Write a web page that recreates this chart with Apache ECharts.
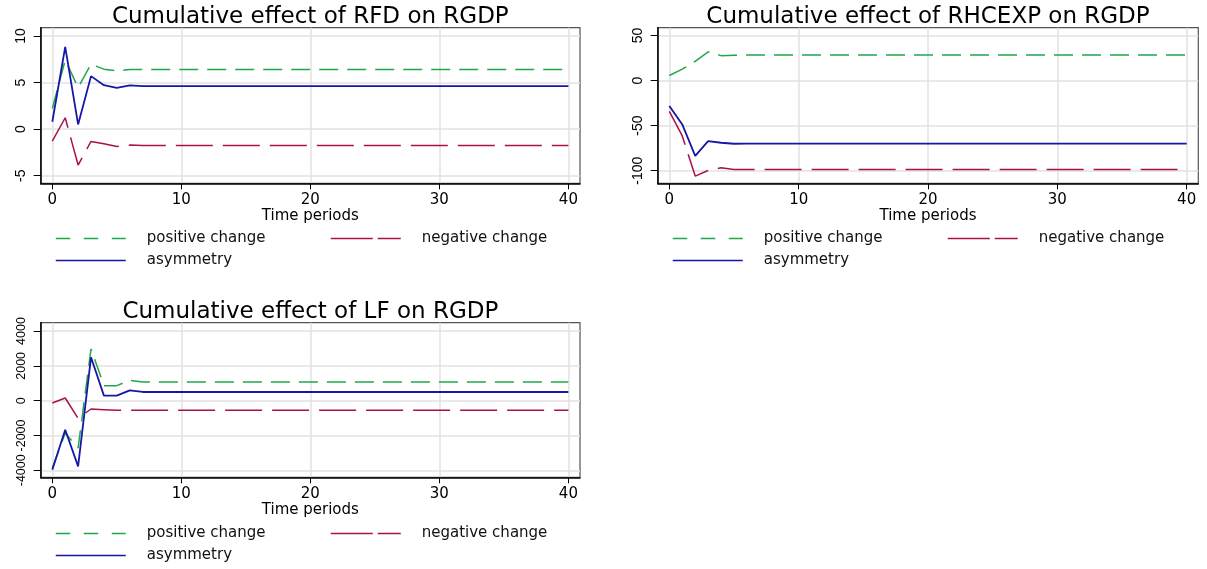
<!DOCTYPE html>
<html><head><meta charset="utf-8">
<script src="https://cdn.jsdelivr.net/npm/echarts@6/dist/echarts.min.js"></script>
<style>html,body{margin:0;padding:0;background:#fff}#c{width:1207px;height:569px}</style>
</head><body><div id="c"></div>
<script>
const periods = [0,1,2,3,4,5,6,7,8,9,
  10,11,12,13,14,15,16,17,18,19,
  20,21,22,23,24,25,26,27,28,29,
  30,31,32,33,34,35,36,37,38,39,
  40];
const xTicks = [0,10,20,30,40];
const rfdTicks = [-5,0,5,10];
const rhcTicks = [-100,-50,0,50];
const lfTicks = [-4000,-2000,0,2000,4000];
const seriesNames = ['positive change','negative change','asymmetry'];
const titles = ['Cumulative effect of RFD on RGDP','Cumulative effect of RHCEXP on RGDP','Cumulative effect of LF on RGDP'];
const xName = 'Time periods';

// RFD
const rfdPos = [2.22,7.40,4.47,6.97,6.44,6.26,6.40,6.40,6.40,6.40,
  6.40,6.40,6.40,6.40,6.40,6.40,6.40,6.40,6.40,6.40,
  6.40,6.40,6.40,6.40,6.40,6.40,6.40,6.40,6.40,6.40,
  6.40,6.40,6.40,6.40,6.40,6.40,6.40,6.40,6.40,6.40,
  6.40];
const rfdNeg = [-1.29,1.22,-3.86,-1.32,-1.57,-1.86,-1.72,-1.75,-1.75,-1.75,
  -1.75,-1.75,-1.75,-1.75,-1.75,-1.75,-1.75,-1.75,-1.75,-1.75,
  -1.75,-1.75,-1.75,-1.75,-1.75,-1.75,-1.75,-1.75,-1.75,-1.75,
  -1.75,-1.75,-1.75,-1.75,-1.75,-1.75,-1.75,-1.75,-1.75,-1.75,
  -1.75];
const rfdAsy = [0.79,8.83,0.50,5.69,4.72,4.43,4.69,4.62,4.62,4.62,
  4.62,4.62,4.62,4.62,4.62,4.62,4.62,4.62,4.62,4.62,
  4.62,4.62,4.62,4.62,4.62,4.62,4.62,4.62,4.62,4.62,
  4.62,4.62,4.62,4.62,4.62,4.62,4.62,4.62,4.62,4.62,
  4.62];
// RHCEXP
const rhcPos = [5.6,12.7,21.4,31.9,27.7,28.1,28.4,28.4,28.4,28.4,
  28.4,28.4,28.4,28.4,28.4,28.4,28.4,28.4,28.4,28.4,
  28.4,28.4,28.4,28.4,28.4,28.4,28.4,28.4,28.4,28.4,
  28.4,28.4,28.4,28.4,28.4,28.4,28.4,28.4,28.4,28.4,
  28.4];
const rhcNeg = [-34.1,-61.4,-106.0,-99.7,-96.7,-98.6,-98.6,-98.6,-98.6,-98.6,
  -98.6,-98.6,-98.6,-98.6,-98.6,-98.6,-98.6,-98.6,-98.6,-98.6,
  -98.6,-98.6,-98.6,-98.6,-98.6,-98.6,-98.6,-98.6,-98.6,-98.6,
  -98.6,-98.6,-98.6,-98.6,-98.6,-98.6,-98.6,-98.6,-98.6,-98.6,
  -98.6];
const rhcAsy = [-28.1,-48.7,-83.6,-67.1,-69.0,-70.1,-69.9,-69.9,-69.9,-69.9,
  -69.9,-69.9,-69.9,-69.9,-69.9,-69.9,-69.9,-69.9,-69.9,-69.9,
  -69.9,-69.9,-69.9,-69.9,-69.9,-69.9,-69.9,-69.9,-69.9,-69.9,
  -69.9,-69.9,-69.9,-69.9,-69.9,-69.9,-69.9,-69.9,-69.9,-69.9,
  -69.9];
// LF
const lfPos = [-3870,-1860,-2720,2970,862,862,1169,1073,1073,1073,
  1073,1073,1073,1073,1073,1073,1073,1073,1073,1073,
  1073,1073,1073,1073,1073,1073,1073,1073,1073,1073,
  1073,1073,1073,1073,1073,1073,1073,1073,1073,1073,
  1073];
const lfNeg = [-134,153,-1015,-479,-517,-555,-555,-555,-555,-555,
  -555,-555,-555,-555,-555,-555,-555,-555,-555,-555,
  -555,-555,-555,-555,-555,-555,-555,-555,-555,-555,
  -555,-555,-555,-555,-555,-555,-555,-555,-555,-555,
  -555];
const lfAsy = [-3966,-1667,-3774,2490,287,287,594,498,498,498,
  498,498,498,498,498,498,498,498,498,498,
  498,498,498,498,498,498,498,498,498,498,
  498,498,498,498,498,498,498,498,498,498,
  498];

const FONT = 'DejaVu Sans';
const YFONT = 'Liberation Sans';
const GREEN = '#1fa84a', RED = '#a8124a', BLUE = '#1616a8';
const styles = [
  {color: GREEN, width: 1.5, type: [19, 9], legendType: [14.5, 13.5]},
  {color: RED, width: 1.5, type: [37, 10], legendType: [42, 5]},
  {color: BLUE, width: 1.8, type: 'solid', legendType: 'solid'}
];

const panels = [
  {data: [rfdPos, rfdNeg, rfdAsy], ticks: rfdTicks, min: -5.82, max: 10.89, yFont: 14,
   left: 40.7, top: 27.7, width: 539.3, height: 155.6},
  {data: [rhcPos, rhcNeg, rhcAsy], ticks: rhcTicks, min: -114, max: 58.7, yFont: 14,
   left: 657.7, top: 27.7, width: 540.6, height: 155.6},
  {data: [lfPos, lfNeg, lfAsy], ticks: lfTicks, min: -4402, max: 4477, yFont: 12.5,
   left: 40.7, top: 322.7, width: 539.3, height: 154.6}
];

const grid = [], xAxis = [], yAxis = [], series = [], title = [], legend = [];
panels.forEach((p, i) => {
  grid.push({left: p.left, top: p.top, width: p.width, height: p.height,
    show: true, borderColor: '#555', borderWidth: 1.2, backgroundColor: '#fff',
    outerBoundsMode: 'none', containLabel: false});
  xAxis.push({type: 'value', gridIndex: i, min: -0.9, max: 40.9,
    name: xName, nameLocation: 'middle', nameGap: 16,
    nameTextStyle: {fontFamily: FONT, fontSize: 15, color: '#000'},
    axisLine: {onZero: false, lineStyle: {color: '#000', width: 1.5}},
    axisTick: {customValues: xTicks, length: 6, lineStyle: {color: '#000'}},
    axisLabel: {customValues: xTicks, margin: 9, fontFamily: FONT, fontSize: 15, color: '#000',
      showMinLabel: true, showMaxLabel: true, formatter: v => String(v)},
    splitLine: {show: true, lineStyle: {color: '#e2e2e2', width: 1.5}}
  });
  yAxis.push({type: 'value', gridIndex: i, min: p.min, max: p.max,
    axisLine: {show: true, onZero: false, lineStyle: {color: '#000', width: 1.5}},
    axisTick: {show: true, customValues: p.ticks, length: 7, lineStyle: {color: '#000'}},
    axisLabel: {customValues: p.ticks, rotate: 90, margin: 13, fontFamily: YFONT, fontSize: p.yFont, color: '#000',
      showMinLabel: true, showMaxLabel: true, hideOverlap: false, formatter: v => String(v)},
    splitLine: {show: true, lineStyle: {color: '#e2e2e2', width: 1.5}}
  });
  p.data.forEach((arr, k) => {
    const s = styles[k];
    series.push({type: 'line', name: seriesNames[k], xAxisIndex: i, yAxisIndex: i,
      data: periods.map((t, j) => [t, arr[j]]),
      symbol: 'none', showSymbol: false, animation: false,
      lineStyle: {color: s.color, width: s.width, type: s.type},
      itemStyle: {color: s.color}, z: 3 + k});
  });
  title.push({text: titles[i], left: p.left + p.width / 2, top: p.top - 22, textAlign: 'center',
    padding: 0,
    textStyle: {fontFamily: FONT, fontSize: 23, fontWeight: 'normal', color: '#000'}});
  const dx = p.left - 40.7, dy = p.top - 27.7;
  const pos = [[55, 231], [330, 231], [55, 253]];
  seriesNames.forEach((nm, k) => {
    legend.push({data: [nm], left: pos[k][0] + dx, top: pos[k][1] + dy, padding: 0,
      selectedMode: false, itemWidth: 70, itemHeight: 14,
      itemStyle: {opacity: 0},
      lineStyle: {type: styles[k].legendType, width: 1.5, color: styles[k].color},
      textStyle: {fontFamily: FONT, fontSize: 15, color: '#111', padding: [0, 0, 0, 16]}});
  });
});

const chart = echarts.init(document.getElementById('c'), null, {renderer: 'canvas'});
chart.setOption({animation: false, backgroundColor: '#fff', title, legend, grid, xAxis, yAxis, series});
</script>
</body></html>
